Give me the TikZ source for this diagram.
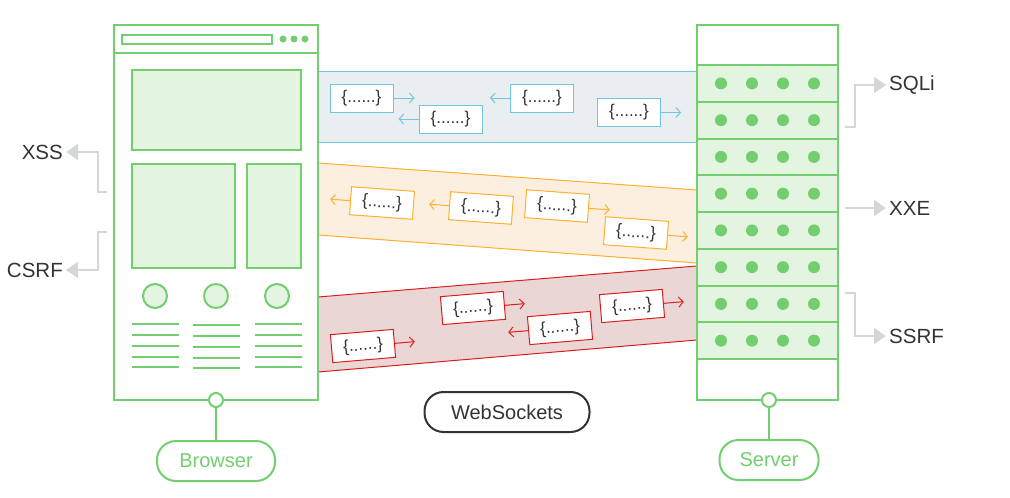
\documentclass[tikz,border=0pt]{standalone}
\usepackage{fontspec}
\setmainfont{Liberation Sans}
\usetikzlibrary{arrows.meta}
\definecolor{grn}{HTML}{72CE6E}
\definecolor{grnfill}{HTML}{E3F5E1}
\definecolor{blu}{HTML}{72C5DF}
\definecolor{blufill}{HTML}{E9EEF1}
\definecolor{org}{HTML}{FFB02E}
\definecolor{orgfill}{HTML}{FDEFDF}
\definecolor{rd}{HTML}{DD1C1C}
\definecolor{rdfill}{HTML}{EBD6D6}
\definecolor{gry}{HTML}{D3D7D7}
\definecolor{txt}{HTML}{333333}
\begin{document}
\begin{tikzpicture}[x=1pt,y=-1pt,
    msg/.style={draw=#1,fill=white,line width=1pt,minimum width=63pt,minimum height=28pt,inner sep=0pt,font=\fontsize{17}{17}\selectfont,text=txt},
    flow/.style={draw=#1,line width=1pt,-{Straight Barb[length=4.5pt,width=10pt]}},
    pill/.style={draw=#1,line width=2pt,rounded corners=19pt,minimum height=40pt,font=\fontsize{20}{20}\selectfont},
    pin/.style={circle,draw=grn,fill=white,line width=2pt,minimum size=14pt,inner sep=0pt},
    lbl/.style={font=\fontsize{20.5}{20.5}\selectfont,text=txt,inner sep=3pt},
    hint/.style={draw=gry,line width=1.5pt,-{Triangle[length=12pt,width=16pt,fill=gry]}}]
    \useasboundingbox (0,0) rectangle (1010,498);
    % channels
    \filldraw[draw=blu,fill=blufill,line width=1pt] (318,71) rectangle (697,142);
    \filldraw[draw=org,fill=orgfill,line width=1pt] (318,163) -- (697,190) -- (697,263) -- (318,235) -- cycle;
    \filldraw[draw=rd,fill=rdfill,line width=1pt] (318,297) -- (697,266) -- (697,340) -- (318,372) -- cycle;
    % browser
    \draw[grn,line width=2pt,fill=white] (114,25) rectangle (318,400);
    \draw[grn,line width=2pt] (114,53) -- (318,53);
    \draw[grn,line width=1.5pt] (122,35) rectangle (272,44);
    \foreach \x in {283,294,305} \fill[grn] (\x,39) circle (3.5);
    \filldraw[draw=grn,fill=grnfill,line width=2pt] (132,70) rectangle (301,150) (132,164) rectangle (235,268) (247,164) rectangle (301,268);
    \foreach \x in {155,216,277} \filldraw[draw=grn,fill=grnfill,line width=2pt] (\x,296) circle (12);
    \foreach \x/\d in {132/0,193/1.3,255/0}
        \foreach \y in {324,335,346,356.5,367}
            \draw[grn,line width=2pt] (\x,\y+\d) -- ++(47,0);
    \node[pin] (bpin) at (216,400) {};
    \node[pill=grn,minimum width=118pt,text=grn] (browser) at (216,461) {Browser};
    \draw[grn,line width=2pt] (bpin) -- (browser);
    % server
    \draw[grn,line width=2pt,fill=white] (697,25) rectangle (838,400);
    \foreach \i in {0,...,7} {
        \filldraw[draw=grn,fill=grnfill,line width=2pt] (697,65+36.75*\i) rectangle ++(141,36.75);
        \foreach \x in {721,752,783,814} \fill[grn] (\x,83.4+36.75*\i) circle (6);
    }
    \node[pin] (spin) at (769,400) {};
    \node[pill=grn,minimum width=99pt,text=grn] (server) at (769,460) {Server};
    \draw[grn,line width=2pt] (spin) -- (server);
    % messages
    \node[msg=blu] (b1) at (361.5,98) {\{......\}};
    \node[msg=blu] (b2) at (450.5,119) {\{......\}};
    \node[msg=blu] (b3) at (542,98) {\{......\}};
    \node[msg=blu] (b4) at (629,112.5) {\{......\}};
    \draw[flow=blu] (b1.east) -- ++(21,0);
    \draw[flow=blu] (b2.west) -- ++(-20,0);
    \draw[flow=blu] (b3.west) -- ++(-20,0);
    \draw[flow=blu] (b4.east) -- ++(20,0);
    \node[msg=org,rotate=-4.2] (o1) at (382,203) {\{......\}};
    \node[msg=org,rotate=-4.2] (o2) at (481,208) {\{......\}};
    \node[msg=org,rotate=-4.2] (o3) at (557,206) {\{......\}};
    \node[msg=org,rotate=-4.2] (o4) at (636,233) {\{......\}};
    \draw[flow=org] (o1.west) -- ++(184.2:20);
    \draw[flow=org] (o2.west) -- ++(184.2:20);
    \draw[flow=org] (o3.east) -- ++(4.2:21);
    \draw[flow=org] (o4.east) -- ++(4.2:20);
    \node[msg=rd,rotate=4.8] (r1) at (363,346) {\{......\}};
    \node[msg=rd,rotate=4.8] (r2) at (473,308) {\{......\}};
    \node[msg=rd,rotate=4.8] (r3) at (560,328) {\{......\}};
    \node[msg=rd,rotate=4.8] (r4) at (632,306) {\{......\}};
    \draw[flow=rd] (r1.east) -- ++(-4.8:20);
    \draw[flow=rd] (r2.east) -- ++(-4.8:20);
    \draw[flow=rd] (r3.west) -- ++(175.2:20);
    \draw[flow=rd] (r4.east) -- ++(-4.8:20);
    \node[pill=txt,minimum width=165pt,text=txt] (ws) at (507,412) {WebSockets};
    % attacks
    \node[lbl,anchor=east] (xss) at (66,152) {XSS};
    \node[lbl,anchor=east] (csrf) at (66,270) {CSRF};
    \node[lbl,anchor=west] (sqli) at (886,85) {SQLi};
    \node[lbl,anchor=west] (xxe) at (886,208) {XXE};
    \node[lbl,anchor=west] (ssrf) at (886,336) {SSRF};
    \coordinate (xssA) at (107,192);
    \coordinate (csrfA) at (107,232);
    \coordinate (sqliA) at (845,127);
    \coordinate (xxeA) at (845,208);
    \coordinate (ssrfA) at (845,293);
    \draw[hint] (xssA) -- ++(-9,0) |- (xss);
    \draw[hint] (csrfA) -- ++(-9,0) |- (csrf);
    \draw[hint] (sqliA) -- ++(10,0) |- (sqli);
    \draw[hint] (xxeA) -- (xxe);
    \draw[hint] (ssrfA) -- ++(10,0) |- (ssrf);
\end{tikzpicture}
\end{document}
